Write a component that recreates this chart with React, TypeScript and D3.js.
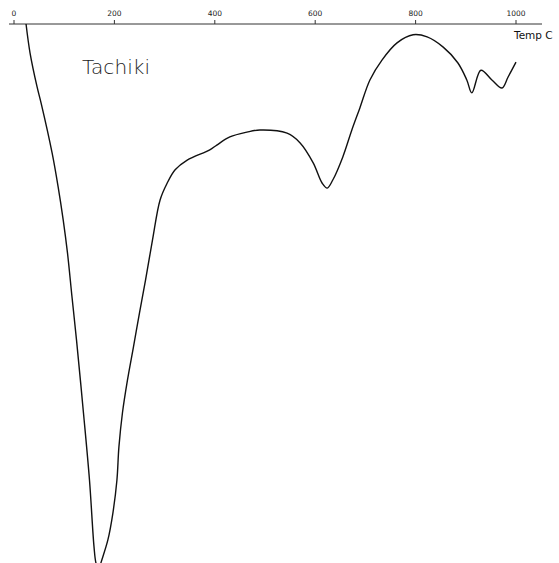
import React from "react";
import * as d3 from "d3";

const temps = [24, 32, 46, 54, 76, 88, 98, 106.6, 115.5, 124.5, 138.4, 150.4, 159.4, 163.3, 169, 173, 187, 197, 205, 209, 216, 226, 238, 250, 262, 276, 291, 305, 321, 345, 390, 404, 430, 464, 490, 544, 570, 596, 614, 624, 635, 655, 673, 689, 709, 733, 763, 795, 823, 855, 884, 902, 912, 930, 952, 972, 984, 1000];
const deflection = [0, -5.4, -11.7, -14.7, -24.0, -30.3, -36.4, -42.6, -50.7, -58.7, -72.3, -84.8, -97.2, -100.2, -101.5, -100.2, -95.9, -90.9, -84.8, -78.6, -72.3, -66.2, -60.0, -53.7, -47.6, -40.1, -32.7, -29.6, -27.1, -25.3, -23.4, -22.5, -21.0, -20.1, -19.7, -20.3, -22.1, -25.8, -29.6, -30.5, -29.0, -24.7, -19.7, -15.6, -10.4, -6.7, -3.5, -2.0, -2.4, -4.3, -7.2, -10.4, -12.8, -8.6, -10.4, -11.9, -9.9, -7.1];
const tickValues = [0, 200, 400, 600, 800, 1000];
const tickLabels = ["0", "200", "400", "600", "800", "1000"];
const sampleName = "Tachiki";
const axisTitle = "Temp C";

export default function App() {
  const W = 559, H = 563;
  const x = d3.scaleLinear().domain([0, 1000]).range([14, 516]);
  const y = d3.scaleLinear().domain([0, -100]).range([24, 562]);
  const pts: [number, number][] = temps.map((t, i) => [t, deflection[i]]);
  const line = d3.line<[number, number]>()
    .x(d => x(d[0]))
    .y(d => y(d[1]))
    .curve(d3.curveCatmullRom.alpha(0.5));
  const y0 = y(0);
  return (
    <div style={{ position: "fixed", left: 0, top: 0 }}>
      <svg width={W} height={H} style={{ display: "block", background: "#fff" }}>
        <line x1={9} x2={542} y1={y0} y2={y0} stroke="#333" strokeWidth={1} />
        {tickValues.map((t, i) => (
          <g key={t}>
            <line x1={x(t)} x2={x(t)} y1={y0 - 4} y2={y0} stroke="#333" strokeWidth={1} />
            <text x={x(t)} y={y0 - 8} fontSize={7.5} textAnchor="middle" fontFamily="DejaVu Sans" fill="#222">{tickLabels[i]}</text>
          </g>
        ))}
        <text x={514} y={39} fontSize={10.5} fontFamily="DejaVu Sans" fill="#111">{axisTitle}</text>
        <text x={82} y={74} fontSize={19} fontFamily="DejaVu Sans" fontWeight={200} fill="#222" textLength={68} lengthAdjust="spacingAndGlyphs">{sampleName}</text>
        <path d={line(pts) || ""} fill="none" stroke="#111" strokeWidth={1.4} />
      </svg>
    </div>
  );
}
